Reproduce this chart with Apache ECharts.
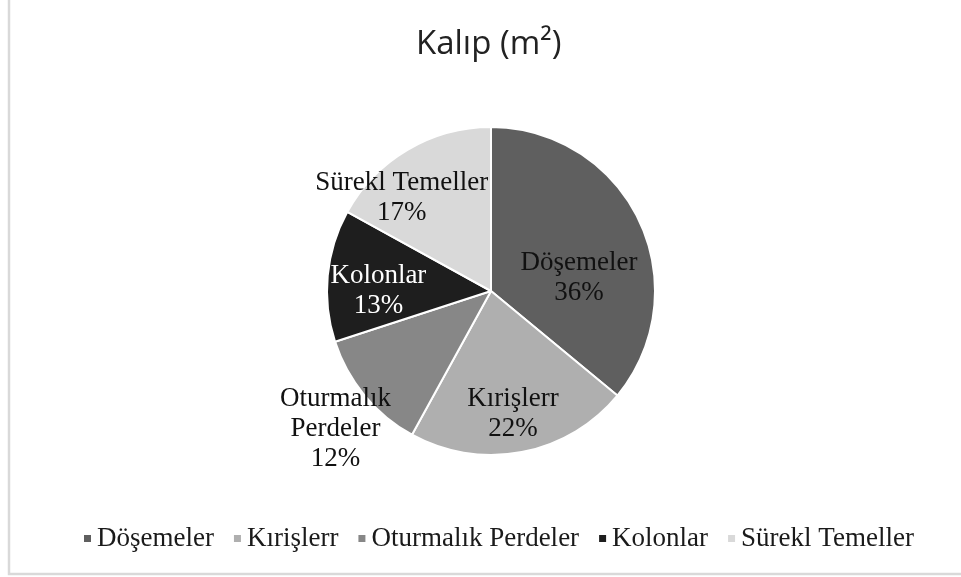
<!DOCTYPE html>
<html>
<head>
<meta charset="utf-8">
<script src="https://cdn.jsdelivr.net/npm/echarts@6/dist/echarts.min.js"></script>
<style>
  html, body { margin: 0; padding: 0; background: #fff; }
  #kalip { width: 961px; height: 577px; }
</style>
</head>
<body>
<div id="kalip"></div>
<script>
// Kalıp (m2) dağılımı, yüzde
const categories = ['Döşemeler', 'Kırişlerr', 'Oturmalık Perdeler', 'Kolonlar', 'Sürekl Temeller']
const shares = [36, 22, 12, 13, 17]

// gri tonlar ve etiket renkleri (Excel tarzı)
const sliceColors = ['#5f5f5f', '#afafaf', '#878787', '#1e1e1e', '#d9d9d9']
const labelColors = ['#111', '#111', '#111', '#fff', '#111']
// etiket kaydırmaları (Excel best-fit yerleşimine yaklaşmak için)
const labelShift = [[11, 23], [6, 39], [-90, 84], [-28, 8], [-46, -20]]

const chart = echarts.init(document.getElementById('kalip'))
const serif = '"Liberation Serif", "Times New Roman", serif'

chart.setOption({
  backgroundColor: '#fff',
  animation: false,
  title: {
    text: 'Kalıp (m²)',
    left: 411,
    top: 23,
    textStyle: {
      fontFamily: '"Open Sans", sans-serif',
      fontWeight: 'normal',
      fontSize: 33,
      color: '#222'
    }
  },
  graphic: [{
    type: 'rect',
    silent: true,
    shape: { x: 9, y: -10, width: 1000, height: 584 },
    style: { fill: 'none', stroke: '#d9d9d9', lineWidth: 2.5 }
  }],
  legend: {
    bottom: 20,
    left: 77,
    icon: 'rect',
    itemWidth: 9,
    itemHeight: 9,
    itemGap: 18,
    textStyle: {
      fontFamily: serif,
      fontSize: 27,
      color: '#1a1a1a'
    },
    data: categories
  },
  series: [{
    type: 'pie',
    center: [491, 291],
    radius: 164,
    startAngle: 90,
    clockwise: true,
    itemStyle: {
      borderColor: '#fff',
      borderWidth: 2
    },
    label: {
      position: 'inside',
      fontFamily: serif,
      fontSize: 27,
      lineHeight: 30,
      align: 'center',
      formatter: function(p) {
        var name = p.name === 'Oturmalık Perdeler' ? 'Oturmalık\nPerdeler' : p.name
        return name + '\n' + Math.round(p.percent) + '%'
      }
    },
    labelLine: { show: false },
    labelLayout: function(params) {
      var s = labelShift[params.dataIndex]
      return { dx: s[0], dy: s[1] }
    },
    data: categories.map((name, i) => ({
      name: name,
      value: shares[i],
      itemStyle: { color: sliceColors[i] },
      label: { color: labelColors[i] }
    }))
  }]
})
</script>
</body>
</html>
